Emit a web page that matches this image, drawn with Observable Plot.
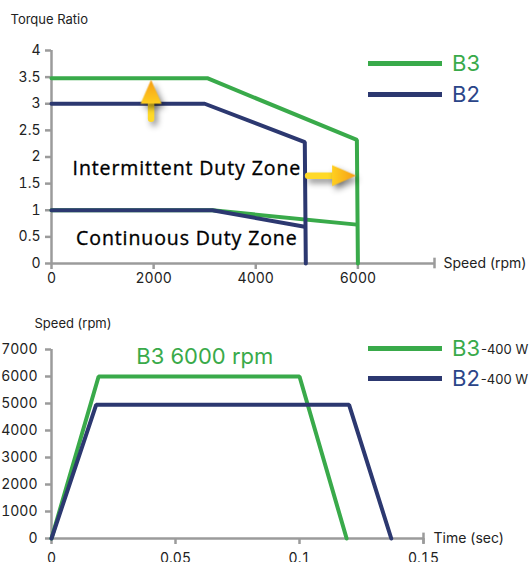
<!DOCTYPE html>
<html>
<head>
<meta charset="utf-8">
<script src="https://cdn.jsdelivr.net/npm/d3@7"></script>
<script src="https://cdn.jsdelivr.net/npm/@observablehq/plot@0.6"></script>
<style>
  html, body { margin: 0; padding: 0; background: #fff; }
  #wrap { position: relative; width: 531px; height: 562px; overflow: hidden; font-family: Inter, "DejaVu Sans", sans-serif; }
  #wrap svg { position: absolute; left: 0; overflow: visible; }
  .legend { position: absolute; left: 368px; }
  .item { position: absolute; left: 0; height: 30px; display: flex; align-items: center; white-space: nowrap; }
  .swatch { display: inline-block; width: 74px; height: 5px; margin-right: 10px; }
  .name { font-size: 22px; line-height: 30px; }
  .note { font-size: 13px; color: #222; margin-left: 1px; position: relative; top: 1px; }
</style>
</head>
<body>
<div id="wrap"></div>
<script>
// ---------- data ----------
const seriesNames = ["B3", "B2"];
const seriesLineColors = ["#39aa4a", "#2c3870"];
const seriesTextColors = ["#39aa4a", "#2b4589"];
const motorNote = "-400 W";

// Torque–speed curves (top chart)
const b3PeakSpeed  = [0, 3050, 5980, 6000];
const b3PeakTorque = [3.48, 3.48, 2.32, 0];
const b2PeakSpeed  = [0, 3000, 4960, 4980];
const b2PeakTorque = [3.0, 3.0, 2.28, 0];
const b3ContSpeed  = [0, 3150, 5980];
const b3ContTorque = [1.0, 1.0, 0.73];
const b2ContSpeed  = [0, 3150, 4960];
const b2ContTorque = [1.0, 1.0, 0.69];

// Speed profile (bottom chart)
const b3Time  = [0, 0.019, 0.1, 0.119];
const b3Speed = [0, 6000, 6000, 0];
const b2Time  = [0, 0.018, 0.12, 0.137];
const b2Speed = [0, 4950, 4950, 0];

// Ticks and labels
const torqueTicks = [0, 0.5, 1, 1.5, 2, 2.5, 3, 3.5, 4];
const speedTicksX = [0, 2000, 4000, 6000];
const speedTicksY = [0, 1000, 2000, 3000, 4000, 5000, 6000, 7000];
const timeTicks = [0, 0.05, 0.1, 0.15];
const topXMax = 7500, topYMax = 4;
const botXMax = 0.15, botYMax = 7000;

const topTitle = "Torque Ratio";
const topXLabel = "Speed (rpm)";
const botTitle = "Speed (rpm)";
const botXLabel = "Time (sec)";
const zoneNames = ["Intermittent Duty Zone", "Continuous Duty Zone"];
const zoneSpeed = [2650, 2650];
const zoneTorque = [1.78, 0.46];
const peakNote = "B3 6000 rpm";
const peakNoteTime = [0.0618];
const peakNoteSpeed = [6715];

// Annotation arrows (tail -> tip) in data units
const arrowTailX = [1950, 5025];
const arrowTailY = [2.72, 1.65];
const arrowTipX  = [1950, 5965];
const arrowTipY  = [3.45, 1.65];
const arrowAngle = [0, 90];

// ---------- helpers ----------
const rows = (xs, ys) => xs.map((x, i) => ({x, y: ys[i]}));
const axisGray = "#9b9b9b";
const textColor = "#222";
const fnt = "Inter, 'DejaVu Sans', sans-serif";

const headShape = {
  draw(context, l) {
    context.moveTo(0, -l);
    context.lineTo(10.5, 0);
    context.lineTo(-10.5, 0);
    context.closePath();
  }
};

const arrows = arrowTailX.map((x, i) => ({x1: x, y1: arrowTailY[i], x2: arrowTipX[i], y2: arrowTipY[i], r: arrowAngle[i]}));

// ---------- top chart ----------
const topPlot = Plot.plot({
  width: 531, height: 290,
  marginLeft: 51, marginRight: 97, marginTop: 50, marginBottom: 27,
  x: {domain: [0, topXMax], axis: null},
  y: {domain: [0, topYMax], axis: null},
  style: {fontFamily: fnt, fontSize: "14px", color: textColor, background: "transparent", overflow: "visible"},
  marks: [
    Plot.axisX({ticks: speedTicksX, tickFormat: d => String(d), tickSize: 6, tickPadding: 4, stroke: axisGray, strokeWidth: 2.5, fill: textColor, label: null, fontSize: 14}),
    Plot.axisY({ticks: torqueTicks, tickFormat: d => String(d), tickSize: 6, tickPadding: 5, stroke: axisGray, strokeWidth: 2.5, fill: textColor, label: null, fontSize: 14}),
    Plot.ruleY([0], {x1: 0, x2: topXMax, stroke: axisGray, strokeWidth: 2.5}),
    Plot.ruleX([0], {y1: 0, y2: topYMax, stroke: axisGray, strokeWidth: 2.5}),
    Plot.ruleX([topXMax], {y1: -0.1, y2: 0.1, stroke: axisGray, strokeWidth: 2.5}),
    Plot.line(rows(b3PeakSpeed, b3PeakTorque), {x: "x", y: "y", stroke: seriesLineColors[0], strokeWidth: 4, strokeLinejoin: "miter"}),
    Plot.line(rows(b3ContSpeed, b3ContTorque), {x: "x", y: "y", stroke: seriesLineColors[0], strokeWidth: 4, strokeLinejoin: "miter"}),
    Plot.line(rows(b2PeakSpeed, b2PeakTorque), {x: "x", y: "y", stroke: seriesLineColors[1], strokeWidth: 4, strokeLinejoin: "miter"}),
    Plot.line(rows(b2ContSpeed, b2ContTorque), {x: "x", y: "y", stroke: seriesLineColors[1], strokeWidth: 4, strokeLinejoin: "miter"}),
    Plot.text(zoneNames.map((t, i) => ({t, x: zoneSpeed[i], y: zoneTorque[i]})), {x: "x", y: "y", text: "t", fontSize: 19.5, fontWeight: 400, fontFamily: "'Open Sans', Inter, sans-serif", fill: "#000", stroke: "#000", strokeWidth: 0.35}),
    Plot.arrow(arrows, {x1: "x1", y1: "y1", x2: "x2", y2: "y2", stroke: "#ffd928", strokeWidth: 6.5, headLength: 0, insetEnd: 20}),
    Plot.vector(arrows, {x: "x2", y: "y2", rotate: "r", length: 24, anchor: "end", shape: headShape, fill: "url(#headGrad)", stroke: "none"}),
    Plot.text([{t: topXLabel, x: topXMax, y: 0}], {x: "x", y: "y", text: "t", dx: 9, textAnchor: "start", fontSize: 14, fill: textColor}),
    Plot.text([{t: topTitle, x: 0, y: topYMax}], {x: "x", y: "y", text: "t", dx: -41, dy: -31, textAnchor: "start", fontSize: 13, fill: textColor})
  ]
});

// ---------- bottom chart ----------
const botPlot = Plot.plot({
  width: 531, height: 272,
  marginLeft: 51, marginRight: 108, marginTop: 59, marginBottom: 24,
  x: {domain: [0, botXMax], axis: null},
  y: {domain: [0, botYMax], axis: null},
  style: {fontFamily: fnt, fontSize: "14px", color: textColor, background: "transparent", overflow: "visible"},
  marks: [
    Plot.axisX({ticks: timeTicks, tickFormat: d => String(d), tickSize: 6, tickPadding: 9, stroke: axisGray, strokeWidth: 2.5, fill: textColor, label: null, fontSize: 14}),
    Plot.axisY({ticks: speedTicksY, tickFormat: d => String(d), tickSize: 6, tickPadding: 8, stroke: axisGray, strokeWidth: 2.5, fill: textColor, label: null, fontSize: 14}),
    Plot.ruleY([0], {x1: 0, x2: botXMax, stroke: axisGray, strokeWidth: 2.5}),
    Plot.ruleX([0], {y1: 0, y2: botYMax, stroke: axisGray, strokeWidth: 2.5}),
    Plot.ruleX([botXMax], {y1: -200, y2: 200, stroke: axisGray, strokeWidth: 2.5}),
    Plot.line(rows(b3Time, b3Speed), {x: "x", y: "y", stroke: seriesLineColors[0], strokeWidth: 4, strokeLinejoin: "miter"}),
    Plot.line(rows(b2Time, b2Speed), {x: "x", y: "y", stroke: seriesLineColors[1], strokeWidth: 4, strokeLinejoin: "miter"}),
    Plot.text([{t: peakNote, x: peakNoteTime[0], y: peakNoteSpeed[0]}], {x: "x", y: "y", text: "t", fontSize: 22, fill: seriesTextColors[0]}),
    Plot.text([{t: botXLabel, x: botXMax, y: 0}], {x: "x", y: "y", text: "t", dx: 10, textAnchor: "start", fontSize: 14, fill: textColor}),
    Plot.text([{t: botTitle, x: 0, y: botYMax}], {x: "x", y: "y", text: "t", dx: -17, dy: -26, textAnchor: "start", fontSize: 13, fill: textColor})
  ]
});

const wrap = document.getElementById("wrap");
topPlot.style.top = "0px";
botPlot.style.top = "290px";
wrap.appendChild(topPlot);
wrap.appendChild(botPlot);

// gradient + shadow for the annotation arrows
const svgTop = d3.select(topPlot);
const grad = svgTop.insert("defs", ":first-child").append("linearGradient")
  .attr("id", "headGrad").attr("x1", 0).attr("y1", 1).attr("x2", 0).attr("y2", 0);
grad.append("stop").attr("offset", "0%").attr("stop-color", "#ffcf1f");
grad.append("stop").attr("offset", "100%").attr("stop-color", "#f59c16");
svgTop.selectAll('g[aria-label="arrow"], g[aria-label="vector"]')
  .style("filter", "drop-shadow(3px 4px 3px rgba(0,0,0,0.45))");
// wider tracking for the zone labels, as in the reference
svgTop.selectAll("text").filter(function () { return zoneNames.includes(this.textContent); })
  .style("letter-spacing", "0.9px");

// ---------- legends ----------
function legend(top, gap, withNote) {
  const lg = document.createElement("div");
  lg.className = "legend";
  lg.style.top = top + "px";
  seriesNames.forEach((name, i) => {
    const it = document.createElement("div");
    it.className = "item";
    it.style.top = (i * gap) + "px";
    it.innerHTML = `<span class="swatch" style="background:${seriesLineColors[i]}"></span>` +
      `<span class="name" style="color:${seriesTextColors[i]}">${name}</span>` +
      (withNote ? `<span class="note">${motorNote}</span>` : "");
    lg.appendChild(it);
  });
  wrap.appendChild(lg);
}
legend(48, 31, false);
legend(333, 30, true);
</script>
</body>
</html>
